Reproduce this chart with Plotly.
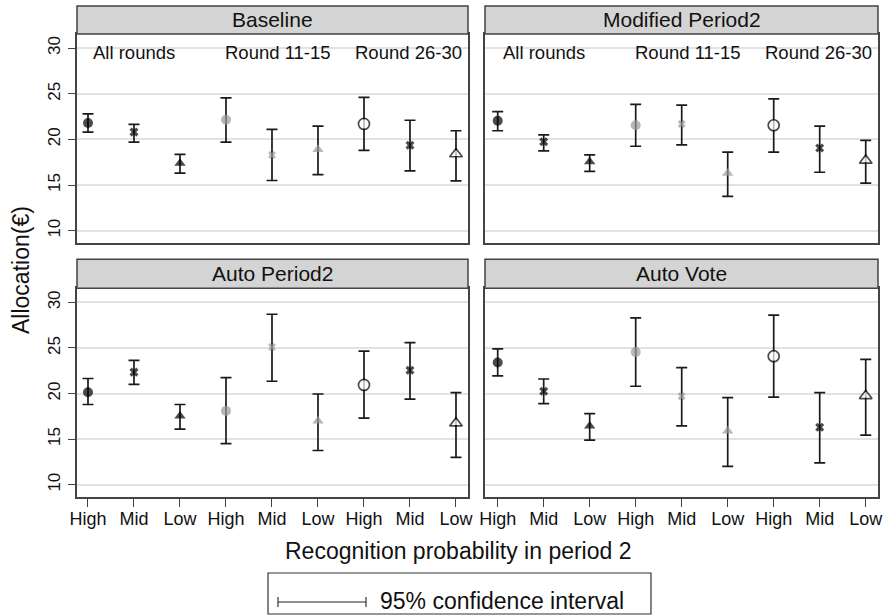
import plotly.graph_objects as go

W, H = 886, 616

panels = ["Baseline", "Modified Period2", "Auto Period2", "Auto Vote"]
tick_labels = ["High", "Mid", "Low", "High", "Mid", "Low", "High", "Mid", "Low"]
positions = [1, 2, 3, 4, 5, 6, 7, 8, 9]
group_labels = ["All rounds", "Round 11-15", "Round 26-30"]

baseline_mean = [21.8, 20.8, 17.4, 22.15, 18.3, 18.9, 21.7, 19.35, 18.4]
baseline_lo = [20.8, 19.7, 16.3, 19.7, 15.5, 16.15, 18.8, 16.55, 15.45]
baseline_hi = [22.8, 21.65, 18.35, 24.55, 21.1, 21.45, 24.6, 22.1, 20.95]

modified_mean = [22.05, 19.75, 17.55, 21.55, 21.7, 16.3, 21.55, 19.05, 17.7]
modified_lo = [20.95, 18.75, 16.5, 19.25, 19.4, 13.75, 18.6, 16.4, 15.2]
modified_hi = [23.05, 20.5, 18.3, 23.85, 23.75, 18.6, 24.45, 21.45, 19.9]

autop2_mean = [20.15, 22.35, 17.55, 18.1, 25.1, 17.0, 20.95, 22.55, 16.75]
autop2_lo = [18.8, 21.0, 16.1, 14.5, 21.35, 13.75, 17.3, 19.4, 13.0]
autop2_hi = [21.65, 23.65, 18.8, 21.75, 28.7, 19.95, 24.65, 25.6, 20.1]

autovote_mean = [23.4, 20.25, 16.45, 24.55, 19.7, 15.9, 24.1, 16.3, 19.75]
autovote_lo = [21.95, 18.9, 14.9, 20.8, 16.45, 12.0, 19.6, 12.4, 15.45]
autovote_hi = [24.9, 21.6, 17.8, 28.3, 22.85, 19.55, 28.6, 20.1, 23.75]

means = [baseline_mean, modified_mean, autop2_mean, autovote_mean]
lows = [baseline_lo, modified_lo, autop2_lo, autovote_lo]
highs = [baseline_hi, modified_hi, autop2_hi, autovote_hi]

FONT = "Liberation Sans, Arial, Helvetica, sans-serif"
TXT = "#111111"
LINE = "#444444"
GRAY = "#9a9a9a"

symbols = ["circle", "x", "triangle-up"] * 3
m_colors = ["#000000"] * 3 + [GRAY] * 3 + ["#ffffff", "#000000", "#ffffff"]
m_line_w = [0] * 6 + [1.7, 0, 1.7]
m_sizes = [10, 8, 10, 10, 7, 10, 11, 8, 11]

# panel geometry in pixels
xdom_px = [(77, 468), (485, 878)]
ydom_px = [(34, 243), (288.3, 497)]
strip_px = [(6, 34), (259.3, 288.3)]
xranges = [[0.761, 9.261], [0.724, 9.267]]
yrange = [8.65, 31.55]

fig = go.Figure()

for i in range(4):
    r, c = divmod(i, 2)
    ax = "" if i == 0 else str(i + 1)
    fig.add_trace(go.Scatter(
        x=positions, y=means[i],
        mode="markers",
        xaxis="x" + ax, yaxis="y" + ax,
        marker=dict(symbol=symbols, color=m_colors, size=m_sizes,
                    line=dict(color="#000000", width=m_line_w)),
        error_y=dict(type="data", symmetric=False,
                     array=[h - m for h, m in zip(highs[i], means[i])],
                     arrayminus=[m - l for m, l in zip(means[i], lows[i])],
                     color="#1a1a1a", thickness=1.7, width=5.5),
        showlegend=False, hoverinfo="skip",
    ))

    xd = [xdom_px[c][0] / W, xdom_px[c][1] / W]
    yd = [1 - ydom_px[r][1] / H, 1 - ydom_px[r][0] / H]
    xaxis = dict(domain=xd, range=xranges[c], anchor="y" + ax,
                 automargin=False,
                 showline=True, mirror=True, linecolor=LINE, linewidth=1.5,
                 showgrid=False, zeroline=False,
                 tickvals=positions, ticktext=tick_labels,
                 tickfont=dict(family=FONT, size=18, color=TXT))
    if r == 0:
        xaxis.update(ticks="", showticklabels=False)
    else:
        xaxis.update(ticks="outside", ticklen=8, tickwidth=1.3, tickcolor=LINE,
                     ticklabelstandoff=-3)
    yaxis = dict(domain=yd, range=yrange, anchor="x" + ax,
                 automargin=False,
                 showline=True, mirror=True, linecolor=LINE, linewidth=1.5,
                 showgrid=True, gridcolor="#e2e2e2", gridwidth=1.5,
                 zeroline=False, tickvals=[10, 15, 20, 25, 30],
                 tickfont=dict(family=FONT, size=17, color=TXT))
    if c == 0:
        yaxis.update(ticks="outside", ticklen=7, tickwidth=1.3, tickcolor=LINE,
                     tickangle=-90, ticklabelstandoff=1)
    else:
        yaxis.update(ticks="", showticklabels=False)
    fig.update_layout({"xaxis" + ax: xaxis, "yaxis" + ax: yaxis})

    # strip
    fig.add_shape(type="rect", xref="paper", yref="paper",
                  x0=xd[0], x1=xd[1],
                  y0=1 - strip_px[r][1] / H, y1=1 - strip_px[r][0] / H,
                  fillcolor="#d4d4d4", line=dict(color=LINE, width=1.5))
    fig.add_annotation(xref="paper", yref="paper", x=(xd[0] + xd[1]) / 2,
                       y=1 - (strip_px[r][0] + strip_px[r][1]) / 2 / H,
                       text=panels[i], showarrow=False, xanchor="center",
                       yanchor="middle",
                       font=dict(family=FONT, size=21, color=TXT))

    if r == 0:
        for gx, gl in zip([2.0, 5.14, 7.97], group_labels):
            fig.add_annotation(xref="x" + ax, yref="y" + ax, x=gx, y=29.5,
                               text=gl, showarrow=False, xanchor="center",
                               yanchor="middle",
                               font=dict(family=FONT, size=18.5, color=TXT))

# axis titles
fig.add_annotation(xref="paper", yref="paper", x=459 / W, y=1 - 551 / H,
                   text="Recognition probability in period 2", showarrow=False,
                   xanchor="center", yanchor="middle",
                   font=dict(family=FONT, size=23, color=TXT))
fig.add_annotation(xref="paper", yref="paper", x=21 / W, y=1 - 270 / H,
                   text="Allocation(€)", showarrow=False, textangle=-90,
                   xanchor="center", yanchor="middle",
                   font=dict(family=FONT, size=23, color=TXT))

# legend box
fig.add_shape(type="rect", xref="paper", yref="paper",
              x0=268 / W, x1=651 / W, y0=1 - 614 / H, y1=1 - 573 / H,
              line=dict(color="#333333", width=1.2), fillcolor="rgba(0,0,0,0)")
fig.add_shape(type="line", xref="paper", yref="paper",
              x0=278 / W, x1=366 / W, y0=1 - 602 / H, y1=1 - 602 / H,
              line=dict(color="#222222", width=1.1))
for lx in (278, 366):
    fig.add_shape(type="line", xref="paper", yref="paper",
                  x0=lx / W, x1=lx / W, y0=1 - 597 / H, y1=1 - 607 / H,
                  line=dict(color="#222222", width=1.1))
fig.add_annotation(xref="paper", yref="paper", x=378 / W, y=1 - 601 / H,
                   text="95% confidence interval", showarrow=False,
                   xanchor="left", yanchor="middle",
                   font=dict(family=FONT, size=23, color=TXT))

fig.update_layout(width=W, height=H, margin=dict(l=0, r=0, t=0, b=0),
                  paper_bgcolor="white", plot_bgcolor="white",
                  font=dict(family=FONT, color=TXT))

fig.write_html("out.html",
               config={"displayModeBar": False},
               post_script="document.body.style.margin='0';"
                           "document.body.style.padding='0';")
